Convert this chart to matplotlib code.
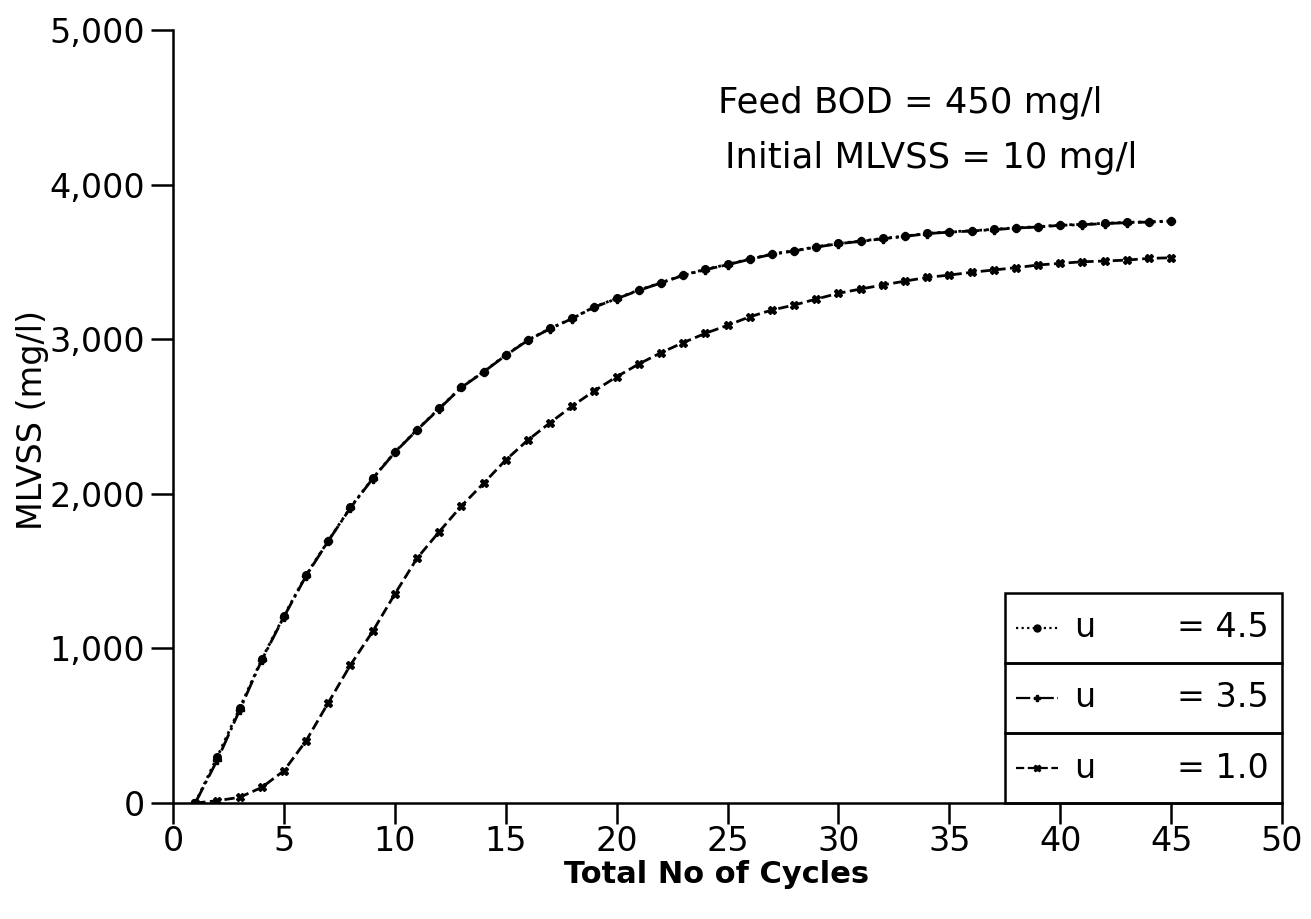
import matplotlib
matplotlib.use("Agg")
import matplotlib.pyplot as plt
from matplotlib.lines import Line2D
from matplotlib.patches import Rectangle

# Cycle number and MLVSS (mg/l)
cycles = list(range(1, 46))

mlvss_u45 = [0, 300, 612, 931, 1210, 1475, 1697, 1913, 2100, 2270,
             2415, 2553, 2690, 2790, 2898, 2995, 3070, 3135, 3210, 3264,
             3318, 3366, 3415, 3452, 3484, 3519, 3551, 3573, 3598, 3620,
             3635, 3652, 3667, 3685, 3695, 3702, 3711, 3721, 3728, 3739,
             3743, 3750, 3756, 3760, 3765]

mlvss_u35 = [0, 280, 600, 925, 1205, 1470, 1695, 1910, 2098, 2268,
             2413, 2550, 2688, 2788, 2896, 2993, 3068, 3134, 3208, 3262,
             3316, 3364, 3413, 3450, 3482, 3517, 3549, 3571, 3596, 3618,
             3633, 3650, 3665, 3683, 3693, 3700, 3709, 3719, 3726, 3737,
             3741, 3748, 3754, 3758, 3763]

mlvss_u10 = [0, 15, 37, 101, 209, 403, 649, 893, 1110, 1352,
             1583, 1755, 1921, 2068, 2219, 2348, 2460, 2568, 2667, 2757,
             2840, 2913, 2978, 3038, 3090, 3145, 3189, 3221, 3260, 3297,
             3325, 3351, 3376, 3400, 3415, 3433, 3448, 3463, 3480, 3491,
             3501, 3506, 3512, 3523, 3527]

legend_names = ["u", "u", "u"]
legend_values = ["= 4.5", "= 3.5", "= 1.0"]

plt.rcParams['font.family'] = ['DejaVu Sans']

fig = plt.figure(figsize=(13.11, 9.19), dpi=100)
ax = fig.add_axes([0.132, 0.1262, 0.8459, 0.8411])

styles = [
    dict(linestyle=(0, (1, 1.5)), marker='o', markersize=5.5),
    dict(linestyle='-.', marker='P', markersize=5.5),
    dict(linestyle='--', marker='X', markersize=5.5),
]
series = [mlvss_u45, mlvss_u35, mlvss_u10]
for vals, st in zip(series, styles):
    ax.plot(cycles, vals, color='black', linewidth=2.0, **st)

ax.set_xlim(0, 50)
ax.set_ylim(0, 5000)
ax.set_xticks(range(0, 51, 5))
ax.set_yticks(range(0, 5001, 1000))
ax.set_yticklabels(['0', '1,000', '2,000', '3,000', '4,000', '5,000'])

for side in ['top', 'right']:
    ax.spines[side].set_visible(False)
for side in ['left', 'bottom']:
    ax.spines[side].set_linewidth(1.8)
ax.tick_params(direction='out', length=16, width=1.8, labelsize=24, pad=4)
ax.tick_params(axis='x', length=15, pad=1)

ax.set_xlabel('Total No of Cycles', fontsize=22, fontweight='bold')
ax.set_ylabel('MLVSS (mg/l)', fontsize=24)
ax.xaxis.set_label_coords(0.49, -0.074)
ax.yaxis.set_label_coords(-0.112, 0.495)

ax.text(0.491, 0.906, 'Feed BOD = 450 mg/l', transform=ax.transAxes,
        fontsize=25.5, ha='left', va='center')
ax.text(0.498, 0.834, 'Initial MLVSS = 10 mg/l', transform=ax.transAxes,
        fontsize=25.5, ha='left', va='center')

# boxed legend in the lower right corner, one cell per series
x0, x1 = 0.750, 1.0
row_h = 0.0906
for i, (st, name, val) in enumerate(zip(styles, legend_names, legend_values)):
    y_lo = row_h * (2 - i)
    ax.add_patch(Rectangle((x0, y_lo), x1 - x0, row_h, transform=ax.transAxes,
                           fill=False, edgecolor='black', linewidth=1.8,
                           clip_on=False))
    yc = y_lo + row_h / 2
    ax.add_line(Line2D([x0 + 0.010, x0 + 0.048], [yc, yc], color='black',
                       linewidth=1.6, linestyle=st['linestyle'],
                       transform=ax.transAxes, clip_on=False))
    ax.add_line(Line2D([x0 + 0.029], [yc], color='black', marker=st['marker'],
                       markersize=5, linestyle='none',
                       transform=ax.transAxes, clip_on=False))
    ax.text(x0 + 0.072, yc, name, transform=ax.transAxes, fontsize=24,
            ha='center', va='center')
    ax.text(x1 - 0.012, yc, val, transform=ax.transAxes, fontsize=24,
            ha='right', va='center')

fig.savefig('out.png', dpi=100)
